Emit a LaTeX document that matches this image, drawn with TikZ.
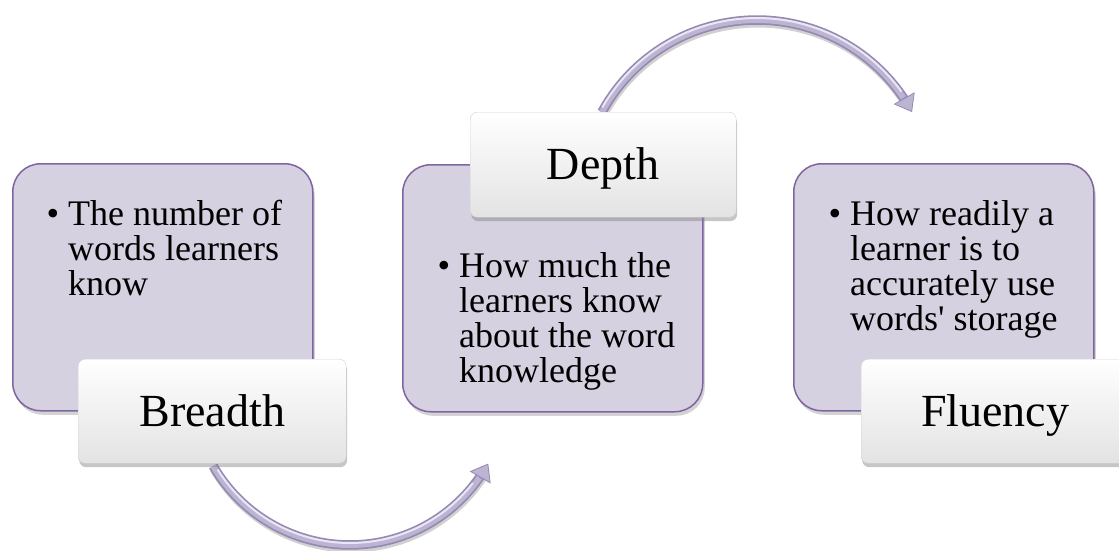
\documentclass[tikz,border=0pt]{standalone}
\usepackage{fontspec}
\setmainfont{Liberation Serif}
\usetikzlibrary{shadows,arrows.meta}
\definecolor{panelfill}{RGB}{214,209,224}
\definecolor{panelline}{RGB}{128,100,162}
\definecolor{tubedark}{RGB}{148,138,178}
\definecolor{tubemid}{RGB}{188,180,210}
\definecolor{tubelight}{RGB}{234,230,243}

\begin{document}
\begin{tikzpicture}[x=1pt,y=-1pt,
  panel/.style={draw=panelline, line width=1.5pt, fill=panelfill,
    rounded corners=28pt, minimum width=300pt, minimum height=247pt,
    inner sep=0pt, anchor=north west,
    drop shadow={shadow xshift=2pt, shadow yshift=-4pt, opacity=0.35}},
  tag/.style={draw=gray!35, line width=0.4pt, top color=white,
    bottom color=gray!22, rounded corners=7pt, minimum width=268pt,
    minimum height=104pt, inner sep=0pt, anchor=north west,
    font=\fontsize{46}{50}\selectfont, text height=30pt, text depth=0pt,
    drop shadow={shadow xshift=1pt, shadow yshift=-4pt, opacity=0.45}},
  bullettext/.style={anchor=north west, inner sep=0pt, align=left,
    font=\fontsize{36}{35}\selectfont},
  tubeshadow/.style={draw=black, opacity=0.18, line width=9pt},
  tubebase/.style={draw=tubedark, line width=9.5pt,
    -{Triangle[width=24pt,length=16pt,line width=0.8pt,fill=tubemid]}},
  tubebody/.style={draw=tubemid, line width=6pt},
  tubeshine/.style={draw=tubelight, line width=2pt},
]
\useasboundingbox (0,0) rectangle (1119,550);

% curved connectors (drawn first, so the tags cover their tails)
\coordinate (a1s) at (213,467);
\coordinate (a1e) at (488,463);
\coordinate (a2s) at (602,112);
\coordinate (a2e) at (913,112);

\draw[tubeshadow] plot[domain=210:327,samples=60] ({351+158*cos(\x)},{390-158*sin(\x)});
\draw[tubebase] plot[domain=210:331,samples=60] ({350+158*cos(\x)},{387-158*sin(\x)});
\draw[tubebody] plot[domain=210:325,samples=60] ({350+158*cos(\x)},{387-158*sin(\x)});
\draw[tubeshine] plot[domain=212:322,samples=60] ({350+156*cos(\x)},{387-156*sin(\x)});

\draw[tubeshadow] plot[domain=151.4:32,samples=60] ({758+176.6*cos(\x)},{199.6-176.6*sin(\x)});
\draw[tubebase] plot[domain=151.4:28.6,samples=60] ({757+176.6*cos(\x)},{196.6-176.6*sin(\x)});
\draw[tubebody] plot[domain=151.4:34,samples=60] ({757+176.6*cos(\x)},{196.6-176.6*sin(\x)});
\draw[tubeshine] plot[domain=150:36,samples=60] ({757+178.6*cos(\x)},{196.6-178.6*sin(\x)});

% description panels
\node[panel] (p1) at (12,163) {};
\node[panel] (p2) at (402,164) {};
\node[panel] (p3) at (793,163) {};

\node[bullettext] (t1) at (68,200) {\llap{\textbullet\hspace{9pt}}The number of\\
  words learners\\ know};
\node[bullettext] (t2) at (459,252) {\llap{\textbullet\hspace{9pt}}How much the\\
  learners know\\ about the word\\ knowledge};
\node[bullettext] (t3) at (850,200) {\llap{\textbullet\hspace{9pt}}How readily a\\
  learner is to\\ accurately use\\ words\textquotesingle{} storage};

% title tags
\node[tag] (breadth) at (78,359) {Breadth};
\node[tag, minimum width=266pt, minimum height=105pt] (depth) at (470,112) {Depth};
\node[tag] (fluency) at (861,359) {Fluency};
\end{tikzpicture}
\end{document}
